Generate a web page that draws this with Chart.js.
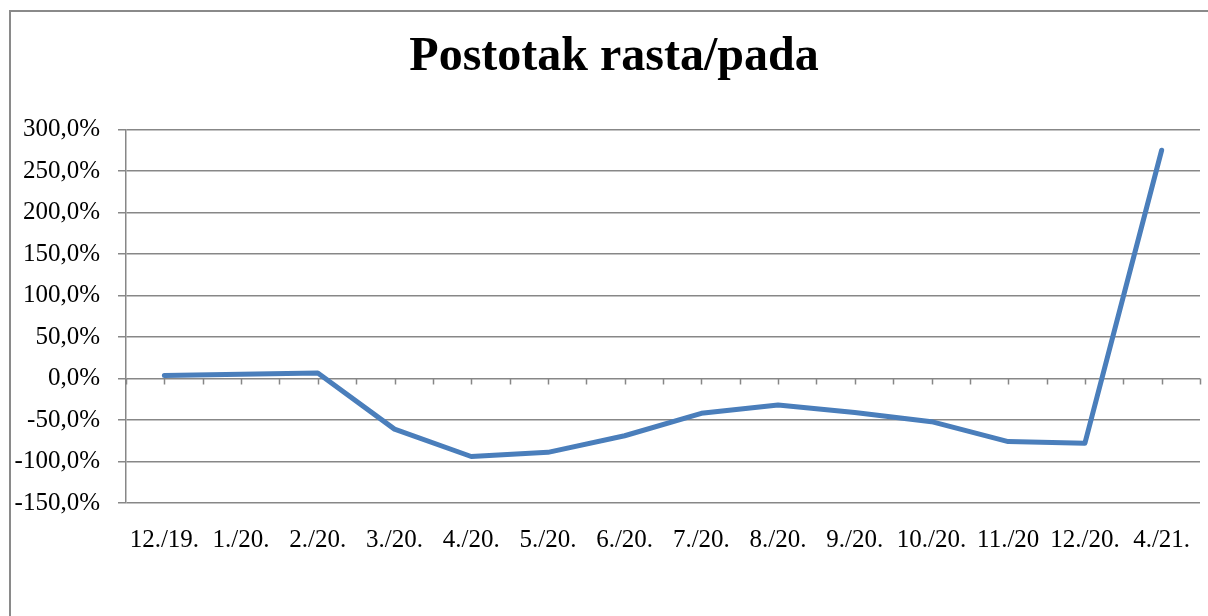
<!DOCTYPE html>
<html>
<head>
<meta charset="utf-8">
<title>Postotak rasta/pada</title>
<script src="https://cdn.jsdelivr.net/npm/chart.js@4.4.1/dist/chart.umd.min.js"></script>
<style>
  html, body { margin: 0; padding: 0; background: #fff; overflow: hidden; }
  #wrap { position: relative; width: 1208px; height: 616px; overflow: hidden; }
  #frame { position: absolute; left: 9px; top: 10px; width: 1300px; height: 700px;
           border-left: 2px solid #8a8a8a; border-top: 2px solid #8a8a8a; pointer-events: none; }
</style>
</head>
<body>
<div id="wrap">
  <canvas id="c" width="1208" height="616"></canvas>
  <div id="frame"></div>
</div>
<script>
// podaci
const chartTitle = 'Postotak rasta/pada';
const months = ['12./19.','1./20.','2./20.','3./20.','4./20.','5./20.','6./20.','7./20.','8./20.','9./20.','10./20.','11./20','12./20.','4./21.'];
const growthPct = [3.5, 5.2, 6.5, -61, -94, -89, -69, -42, -32, -41, -52, -76, -78, 275];
const yMin = -150, yMax = 300, yStep = 50;

const gridColor = '#878787';
const serif = 'Liberation Serif';

// kratke crtice na osi 0 (sredina + granica svake kategorije)
const zeroTicks = {
  id: 'zeroTicks',
  beforeDatasetsDraw(chart) {
    const x = chart.scales.x, y = chart.scales.y, ctx = chart.ctx;
    const y0 = y.getPixelForValue(0);
    const xs = [chart.chartArea.left];
    for (let i = 0; i < months.length; i++) {
      const c = x.getPixelForValue(i);
      xs.push(c);
      xs.push(i < months.length - 1 ? (c + x.getPixelForValue(i + 1)) / 2 : chart.chartArea.right);
    }
    ctx.save();
    ctx.strokeStyle = gridColor;
    ctx.lineWidth = 1.5;
    xs.forEach(px => {
      ctx.beginPath();
      ctx.moveTo(Math.round(px) + 0.5, y0);
      ctx.lineTo(Math.round(px) + 0.5, y0 + 6);
      ctx.stroke();
    });
    ctx.restore();
  }
};

// naslov - Excel ga centrira u okviru grafikona, ne iznad osi
const titleDraw = {
  id: 'titleDraw',
  afterDraw(chart) {
    const ctx = chart.ctx;
    ctx.save();
    ctx.fillStyle = '#000';
    ctx.font = 'bold 48px "' + serif + '"';
    ctx.textAlign = 'center';
    ctx.textBaseline = 'middle';
    ctx.fillText(chartTitle, (28 + chart.chartArea.right) / 2, 57.8);
    ctx.restore();
  }
};

new Chart(document.getElementById('c'), {
  type: 'line',
  data: {
    labels: months,
    datasets: [{
      data: growthPct,
      borderColor: '#4a7ebb',
      borderWidth: 5,
      borderCapStyle: 'round',
      borderJoinStyle: 'round',
      pointRadius: 0,
      tension: 0,
      fill: false
    }]
  },
  plugins: [zeroTicks, titleDraw],
  options: {
    responsive: false,
    animation: false,
    layout: { padding: { left: 0, right: 8, top: 129.5, bottom: 0 } },
    plugins: {
      legend: { display: false },
      tooltip: { enabled: false },
      title: { display: false }
    },
    scales: {
      x: {
        offset: true,
        grid: { display: false, drawTicks: false },
        border: { display: false },
        ticks: {
          autoSkip: false, maxRotation: 0, minRotation: 0,
          padding: 22,
          color: '#000',
          font: { family: serif, size: 25 }
        },
        afterFit(s) { s.height = 113; s.paddingLeft = 0; s.paddingRight = 0; }
      },
      y: {
        min: yMin, max: yMax,
        grid: { color: gridColor, lineWidth: 1.5, tickLength: 8, drawTicks: true, tickColor: gridColor },
        border: { display: true, color: gridColor, width: 1.5 },
        ticks: {
          stepSize: yStep,
          padding: 18,
          color: '#000',
          font: { family: serif, size: 25 },
          callback: v => v.toFixed(1).replace('.', ',') + '%'
        },
        afterFit(s) { s.width = 126; }
      }
    }
  }
});
</script>
</body>
</html>
